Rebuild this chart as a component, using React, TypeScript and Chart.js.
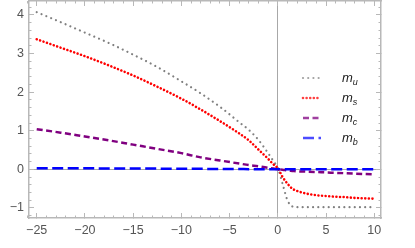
import React, { useEffect, useRef } from "react";
import { Chart, registerables } from "chart.js";
Chart.register(...registerables);

const xValues = [-25, -22.5, -20, -17.5, -15, -12.5, -10, -8, -6, -4, -3, -2, -1, -0.5, 0, 0.5, 1, 1.5, 2, 3, 4, 5, 6, 7, 8, 9, 10];
const muValues = [4.07, 3.81, 3.54, 3.27, 2.97, 2.65, 2.28, 1.97, 1.62, 1.22, 1.02, 0.76, 0.42, 0.23, 0.03, -0.38, -0.8, -0.96, -0.98, -0.98, -0.98, -0.98, -0.98, -0.98, -0.98, -0.98, -0.98];
const msValues = [3.37, 3.15, 2.93, 2.69, 2.43, 2.14, 1.83, 1.55, 1.25, 0.93, 0.75, 0.51, 0.27, 0.14, 0.03, -0.2, -0.37, -0.5, -0.56, -0.63, -0.67, -0.69, -0.71, -0.72, -0.74, -0.75, -0.76];
const mcValues = [1.04, 0.95, 0.85, 0.75, 0.64, 0.53, 0.42, 0.31, 0.23, 0.15, 0.11, 0.08, 0.04, 0.02, 0.0, -0.01, -0.03, -0.04, -0.05, -0.06, -0.07, -0.08, -0.09, -0.1, -0.11, -0.12, -0.13];
const mbValues = [0.03, 0.028, 0.026, 0.024, 0.022, 0.019, 0.016, 0.013, 0.01, 0.007, 0.005, 0.004, 0.002, 0.001, 0.0, 0.0, 0.0, 0.0, 0.0, 0.0, 0.0, 0.0, 0.0, 0.0, 0.0, 0.0, 0.0];

const seriesNames = ["u", "s", "c", "b"];
const xTicks = [-25, -20, -15, -10, -5, 0, 5, 10];
const yTicks = [-1, 0, 1, 2, 3, 4];
const xMinorTicks = Array.from({ length: 37 }, (_, i) => -26 + i);
const yMinorTicks = Array.from({ length: 28 }, (_, i) => Math.round((-1.2 + i * 0.2) * 10) / 10);

const X_MIN = -25.8;
const X_MAX = 10.7;
const Y_MIN = -1.26;
const Y_MAX = 4.36;

const FRAME = "#b8b8b8";
const LABEL = "#555555";

const styles = [
  { color: "#808080", dash: [0.01, 5.2], width: 2.2, cap: "round" },
  { color: "#ff0000", dash: [0.01, 3.6], width: 2.6, cap: "round" },
  { color: "#800080", dash: [6, 3.5], width: 2.5, cap: "butt" },
  { color: "#0000ff", dash: [11, 4.5], width: 2.5, cap: "butt" },
];
const legendAlpha = ["rgba(128,128,128,0.75)", "rgba(255,0,0,0.75)", "rgba(128,0,128,0.75)", "rgba(0,0,255,0.7)"];

const fmt = (v: number) => (v < 0 ? "\u2212" + Math.abs(v) : String(v));

function setTicks(list: number[]) {
  return (scale: any) => {
    scale.ticks = list.map((v) => ({ value: v }));
  };
}
function fixSize(w: number | null, h: number | null) {
  return (scale: any) => {
    if (w !== null) scale.width = w;
    if (h !== null) scale.height = h;
    scale.paddingTop = 0;
    scale.paddingBottom = 0;
    scale.paddingLeft = 0;
    scale.paddingRight = 0;
  };
}

const legendPlugin = {
  id: "customLegend",
  afterDatasetsDraw(chart: any) {
    const { ctx, chartArea } = chart;
    ctx.save();
    seriesNames.forEach((name, i) => {
      const y = chartArea.top + 77 + i * 20;
      const s = styles[i];
      ctx.beginPath();
      ctx.strokeStyle = legendAlpha[i];
      ctx.lineWidth = s.width;
      ctx.lineCap = s.cap;
      ctx.setLineDash(s.dash);
      ctx.moveTo(chartArea.right - 78, y);
      ctx.lineTo(chartArea.right - 60, y);
      ctx.stroke();
      ctx.setLineDash([]);
      ctx.fillStyle = "#222";
      ctx.textBaseline = "alphabetic";
      ctx.textAlign = "left";
      ctx.font = "italic 13px 'Liberation Sans', Arial, sans-serif";
      const tx = chartArea.right - 39;
      ctx.fillText("m", tx, y + 4);
      const w = ctx.measureText("m").width;
      ctx.font = "italic 9px 'Liberation Sans', Arial, sans-serif";
      ctx.fillText(name, tx + w, y + 7);
    });
    ctx.restore();
  },
};

export default function App() {
  const ref = useRef<HTMLCanvasElement | null>(null);
  useEffect(() => {
    if (!ref.current) return;
    const all = [muValues, msValues, mcValues, mbValues];
    const datasets = all.map((vals, i) => ({
      label: "m" + seriesNames[i],
      data: xValues.map((x, j) => ({ x, y: vals[j] })),
      borderColor: styles[i].color,
      borderWidth: styles[i].width,
      borderDash: styles[i].dash,
      borderCapStyle: styles[i].cap,
      pointRadius: 0,
      cubicInterpolationMode: "monotone",
      fill: false,
      order: 4 - i,
    }));
    const font = { family: "'Liberation Sans', Arial, sans-serif", size: 12.5 };
    const chart = new Chart(ref.current, {
      type: "line",
      data: { datasets } as any,
      plugins: [legendPlugin],
      options: {
        animation: false,
        responsive: false,
        layout: { padding: { top: 1, right: 34, left: 0, bottom: 0 } },
        plugins: { legend: { display: false }, tooltip: { enabled: false } },
        scales: {
          x: {
            type: "linear",
            position: "bottom",
            min: X_MIN,
            max: X_MAX,
            weight: 0,
            afterBuildTicks: setTicks(xTicks),
            afterFit: fixSize(null, 30),
            border: { display: true, color: FRAME, width: 1.5 },
            grid: {
              drawOnChartArea: true,
              color: (c: any) => (c.tick && c.tick.value === 0 ? "#a8a8a8" : "rgba(0,0,0,0)"),
              lineWidth: 1,
              tickColor: FRAME,
              tickLength: -5,
              tickWidth: 1,
            },
            ticks: { color: LABEL, font, padding: 10.5, maxRotation: 0, autoSkip: false, callback: (v: any) => fmt(Number(v)) },
          },
          xMinor: {
            type: "linear",
            position: "bottom",
            min: X_MIN,
            max: X_MAX,
            weight: -1,
            afterBuildTicks: setTicks(xMinorTicks),
            afterFit: fixSize(null, 0),
            border: { display: false },
            grid: { drawOnChartArea: false, tickColor: FRAME, tickLength: -2.5, tickWidth: 1 },
            ticks: { display: false, autoSkip: false },
          },
          xTop: {
            type: "linear",
            position: "top",
            min: X_MIN,
            max: X_MAX,
            afterBuildTicks: setTicks(xTicks),
            afterFit: fixSize(null, 0),
            border: { display: true, color: FRAME, width: 1.5 },
            grid: { drawOnChartArea: false, tickColor: FRAME, tickLength: -5, tickWidth: 1 },
            ticks: { display: false, autoSkip: false },
          },
          xTopMinor: {
            type: "linear",
            position: "top",
            min: X_MIN,
            max: X_MAX,
            afterBuildTicks: setTicks(xMinorTicks),
            afterFit: fixSize(null, 0),
            border: { display: false },
            grid: { drawOnChartArea: false, tickColor: FRAME, tickLength: -2.5, tickWidth: 1 },
            ticks: { display: false, autoSkip: false },
          },
          y: {
            type: "linear",
            position: "left",
            min: Y_MIN,
            max: Y_MAX,
            weight: 0,
            afterBuildTicks: setTicks(yTicks),
            afterFit: fixSize(29, null),
            border: { display: true, color: FRAME, width: 1.5 },
            grid: {
              drawOnChartArea: true,
              color: (c: any) => (c.tick && c.tick.value === 0 ? "#a8a8a8" : "rgba(0,0,0,0)"),
              lineWidth: 1,
              tickColor: FRAME,
              tickLength: -5,
              tickWidth: 1,
            },
            ticks: { color: LABEL, font, padding: 10, autoSkip: false, callback: (v: any) => fmt(Number(v)) },
          },
          yMinor: {
            type: "linear",
            position: "left",
            min: Y_MIN,
            max: Y_MAX,
            weight: -1,
            afterBuildTicks: setTicks(yMinorTicks),
            afterFit: fixSize(0, null),
            border: { display: false },
            grid: { drawOnChartArea: false, tickColor: FRAME, tickLength: -2.5, tickWidth: 1 },
            ticks: { display: false, autoSkip: false },
          },
          yRight: {
            type: "linear",
            position: "right",
            min: Y_MIN,
            max: Y_MAX,
            afterBuildTicks: setTicks(yTicks),
            afterFit: fixSize(0, null),
            border: { display: true, color: FRAME, width: 1.5 },
            grid: { drawOnChartArea: false, tickColor: FRAME, tickLength: -5, tickWidth: 1 },
            ticks: { display: false, autoSkip: false },
          },
          yRightMinor: {
            type: "linear",
            position: "right",
            min: Y_MIN,
            max: Y_MAX,
            afterBuildTicks: setTicks(yMinorTicks),
            afterFit: fixSize(0, null),
            border: { display: false },
            grid: { drawOnChartArea: false, tickColor: FRAME, tickLength: -2.5, tickWidth: 1 },
            ticks: { display: false, autoSkip: false },
          },
        } as any,
      },
    } as any);
    return () => chart.destroy();
  }, []);
  return (
    <div style={{ position: "fixed", left: 0, top: 0, width: 415, height: 248, background: "#fff" }}>
      <canvas ref={ref} width={415} height={248} style={{ display: "block", width: 415, height: 248 }} />
    </div>
  );
}
